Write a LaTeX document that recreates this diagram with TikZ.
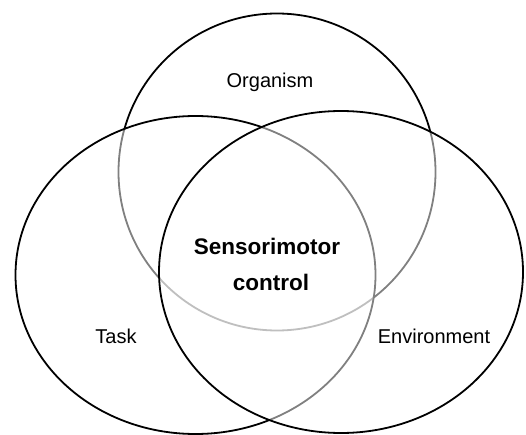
\documentclass[tikz,border=0pt]{standalone}
\usepackage{fontspec}
\setmainfont{Liberation Sans}
\usetikzlibrary{positioning}

\tikzset{
  ring/.style={draw=black, line width=1.8pt},
  veil/.style={fill=white, fill opacity=0.5},
  tag/.style={inner sep=0pt, anchor=base, font=\fontsize{20}{23}\selectfont},
  core/.style={inner sep=0pt, anchor=base, font=\fontsize{22.5}{26}\selectfont\bfseries}
}

\begin{document}
\begin{tikzpicture}[x=1pt, y=-1pt]
  \useasboundingbox (0,0) rectangle (526,435);

	%organism circle (bottom layer)
  \draw[ring] (277,172) circle[radius=158.5pt];

	%task and environment, each veils what lies below
    \foreach \cx/\cy/\rx/\ry in {195.5/275/180/159, 341/272/182/161}{
         \fill[veil] (\cx,\cy) ellipse[x radius=\rx pt, y radius=\ry pt];
         \draw[ring] (\cx,\cy) ellipse[x radius=\rx pt, y radius=\ry pt];
    }

%labels
  \node[tag] (organism) at (270,88) {Organism};
  \node[tag] (task) at (116,343) {Task};
  \node[tag] (environment) at (434,343) {Environment};

  \node[core] (sensorimotor) at (267,254) {Sensorimotor};
  \node[core] (control) at (271,290) {control};

\end{tikzpicture}
\end{document}
